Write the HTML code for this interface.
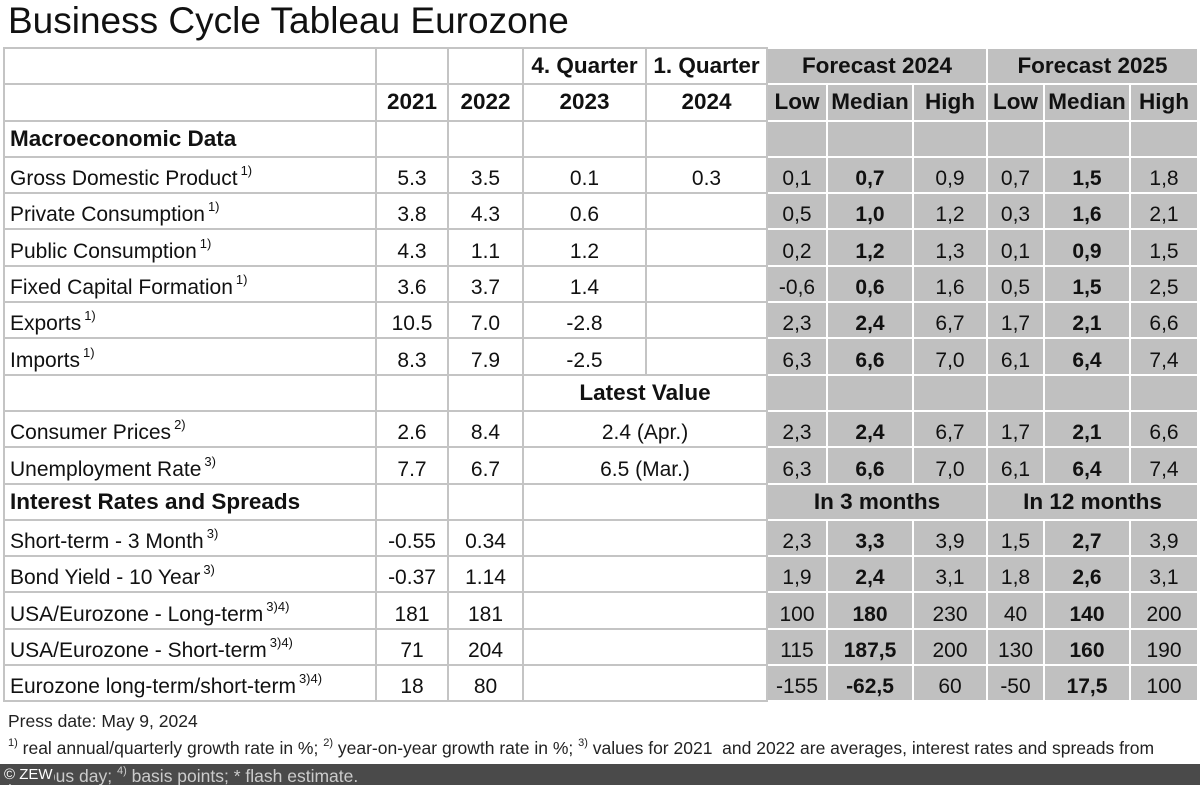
<!DOCTYPE html>
<html><head><meta charset="utf-8"><style>
html,body{margin:0;padding:0;background:#fff;width:1200px;height:785px;overflow:hidden;font-family:"Liberation Sans",sans-serif;color:#111;position:relative}
h1{position:absolute;left:8px;top:-1px;margin:0;font-weight:normal;font-size:37px;line-height:44px;letter-spacing:0px}
table{position:absolute;left:3px;top:47px;border-collapse:collapse;table-layout:fixed;font-size:21px}
td{border:2px solid #c4c4c4;height:34.3px;padding:0;text-align:center;vertical-align:bottom;padding-bottom:0px;white-space:nowrap;overflow:hidden;line-height:26px}
td.l{text-align:left;padding-left:5px}
td.g{background:#c0c0c0;border-color:#fff}
td.s{font-size:22.5px;vertical-align:middle;font-weight:bold}
td.s.n{font-weight:normal}
b{font-weight:bold}
sup{font-size:13px;vertical-align:10px;margin-left:3px}
.fn{position:absolute;left:8px;font-size:17.5px;color:#222;white-space:nowrap}
.fn sup{margin:0;font-size:11px;vertical-align:8px}
.bar{position:absolute;left:0;top:764px;width:1200px;height:21px;background:#4a4a4a}
</style></head><body>
<h1>Business Cycle Tableau Eurozone</h1>
<table>
<colgroup><col style="width:372px"><col style="width:72px"><col style="width:75px"><col style="width:123px"><col style="width:121px"><col style="width:60px"><col style="width:86px"><col style="width:74px"><col style="width:57px"><col style="width:86px"><col style="width:68px"></colgroup>
<tr><td></td><td></td><td></td><td class="s">4. Quarter</td><td class="s">1. Quarter</td><td class="g s" colspan="3">Forecast 2024</td><td class="g s" colspan="3">Forecast 2025</td></tr>
<tr><td></td><td class="s">2021</td><td class="s">2022</td><td class="s">2023</td><td class="s">2024</td><td class="g s">Low</td><td class="g s">Median</td><td class="g s">High</td><td class="g s">Low</td><td class="g s">Median</td><td class="g s">High</td></tr>
<tr><td class="l s">Macroeconomic Data</td><td></td><td></td><td></td><td></td><td class="g"></td><td class="g"></td><td class="g"></td><td class="g"></td><td class="g"></td><td class="g"></td></tr>
<tr><td class="l">Gross Domestic Product<sup>1)</sup></td><td>5.3</td><td>3.5</td><td>0.1</td><td>0.3</td><td class="g">0,1</td><td class="g"><b>0,7</b></td><td class="g">0,9</td><td class="g">0,7</td><td class="g"><b>1,5</b></td><td class="g">1,8</td></tr>
<tr><td class="l">Private Consumption<sup>1)</sup></td><td>3.8</td><td>4.3</td><td>0.6</td><td></td><td class="g">0,5</td><td class="g"><b>1,0</b></td><td class="g">1,2</td><td class="g">0,3</td><td class="g"><b>1,6</b></td><td class="g">2,1</td></tr>
<tr><td class="l">Public Consumption<sup>1)</sup></td><td>4.3</td><td>1.1</td><td>1.2</td><td></td><td class="g">0,2</td><td class="g"><b>1,2</b></td><td class="g">1,3</td><td class="g">0,1</td><td class="g"><b>0,9</b></td><td class="g">1,5</td></tr>
<tr><td class="l">Fixed Capital Formation<sup>1)</sup></td><td>3.6</td><td>3.7</td><td>1.4</td><td></td><td class="g">-0,6</td><td class="g"><b>0,6</b></td><td class="g">1,6</td><td class="g">0,5</td><td class="g"><b>1,5</b></td><td class="g">2,5</td></tr>
<tr><td class="l">Exports<sup>1)</sup></td><td>10.5</td><td>7.0</td><td>-2.8</td><td></td><td class="g">2,3</td><td class="g"><b>2,4</b></td><td class="g">6,7</td><td class="g">1,7</td><td class="g"><b>2,1</b></td><td class="g">6,6</td></tr>
<tr><td class="l">Imports<sup>1)</sup></td><td>8.3</td><td>7.9</td><td>-2.5</td><td></td><td class="g">6,3</td><td class="g"><b>6,6</b></td><td class="g">7,0</td><td class="g">6,1</td><td class="g"><b>6,4</b></td><td class="g">7,4</td></tr>
<tr><td></td><td></td><td></td><td colspan="2" class="s">Latest Value</td><td class="g"></td><td class="g"></td><td class="g"></td><td class="g"></td><td class="g"></td><td class="g"></td></tr>
<tr><td class="l">Consumer Prices<sup>2)</sup></td><td>2.6</td><td>8.4</td><td colspan="2">2.4 (Apr.)</td><td class="g">2,3</td><td class="g"><b>2,4</b></td><td class="g">6,7</td><td class="g">1,7</td><td class="g"><b>2,1</b></td><td class="g">6,6</td></tr>
<tr><td class="l">Unemployment Rate<sup>3)</sup></td><td>7.7</td><td>6.7</td><td colspan="2">6.5 (Mar.)</td><td class="g">6,3</td><td class="g"><b>6,6</b></td><td class="g">7,0</td><td class="g">6,1</td><td class="g"><b>6,4</b></td><td class="g">7,4</td></tr>
<tr><td class="l s">Interest Rates and Spreads</td><td></td><td></td><td colspan="2"></td><td class="g s" colspan="3">In 3 months</td><td class="g s" colspan="3">In 12 months</td></tr>
<tr><td class="l">Short-term - 3 Month<sup>3)</sup></td><td>-0.55</td><td>0.34</td><td colspan="2"></td><td class="g">2,3</td><td class="g"><b>3,3</b></td><td class="g">3,9</td><td class="g">1,5</td><td class="g"><b>2,7</b></td><td class="g">3,9</td></tr>
<tr><td class="l">Bond Yield - 10 Year<sup>3)</sup></td><td>-0.37</td><td>1.14</td><td colspan="2"></td><td class="g">1,9</td><td class="g"><b>2,4</b></td><td class="g">3,1</td><td class="g">1,8</td><td class="g"><b>2,6</b></td><td class="g">3,1</td></tr>
<tr><td class="l">USA/Eurozone - Long-term<sup>3)4)</sup></td><td>181</td><td>181</td><td colspan="2"></td><td class="g">100</td><td class="g"><b>180</b></td><td class="g">230</td><td class="g">40</td><td class="g"><b>140</b></td><td class="g">200</td></tr>
<tr><td class="l">USA/Eurozone - Short-term<sup>3)4)</sup></td><td>71</td><td>204</td><td colspan="2"></td><td class="g">115</td><td class="g"><b>187,5</b></td><td class="g">200</td><td class="g">130</td><td class="g"><b>160</b></td><td class="g">190</td></tr>
<tr><td class="l">Eurozone long-term/short-term<sup>3)4)</sup></td><td>18</td><td>80</td><td colspan="2"></td><td class="g">-155</td><td class="g"><b>-62,5</b></td><td class="g">60</td><td class="g">-50</td><td class="g"><b>17,5</b></td><td class="g">100</td></tr>
</table>
<div class="fn" style="top:711px">Press date: May 9, 2024</div>
<div class="fn" style="top:737px"><sup>1)</sup> real annual/quarterly growth rate in %; <sup>2)</sup> year-on-year growth rate in %; <sup>3)</sup> values for 2021&nbsp; and 2022 are averages, interest rates and spreads from</div>
<div class="bar"></div>
<div class="fn" style="top:765px;color:#ccc">previous day; <sup>4)</sup> basis points; * flash estimate.</div>
<div style="position:absolute;left:4px;top:766px;font-size:15px;line-height:18px;color:#fff;background:#4a4a4a;padding-right:1px">© ZEW</div>
</body></html>
